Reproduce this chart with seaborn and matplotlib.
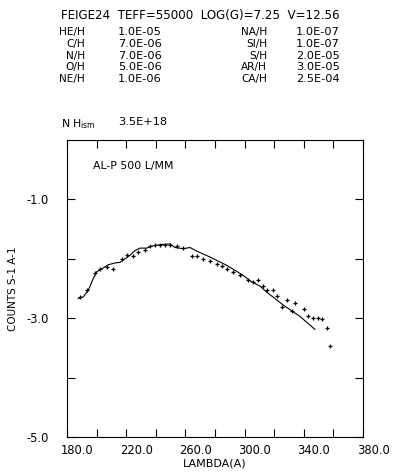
import numpy as np
import pandas as pd
import matplotlib
matplotlib.use("Agg")
import matplotlib.pyplot as plt
import matplotlib.transforms as mtransforms
import seaborn as sns

# observed flux points (+ markers)
obs_lambda = [188.8, 193.3, 198.9, 202.3, 206.8, 211.0, 217.0, 220.7, 224.4, 228.2,
              232.7, 236.1, 239.5, 242.8, 246.2, 249.6, 254.1, 258.6, 264.3, 267.6,
              272.1, 276.6, 281.1, 284.5, 287.9, 292.4, 296.9, 302.5, 305.9, 309.3,
              312.6, 314.9, 319.4, 322.1, 325.5, 328.4, 331.8, 334.1, 340.1, 343.0,
              346.4, 349.8, 352.1, 355.5, 357.7]
obs_counts = [-2.64, -2.53, -2.24, -2.17, -2.13, -2.17, -2.00, -1.93, -1.96, -1.89,
              -1.86, -1.79, -1.77, -1.77, -1.76, -1.77, -1.79, -1.82, -1.96, -1.96,
              -2.00, -2.03, -2.08, -2.12, -2.17, -2.23, -2.28, -2.36, -2.39, -2.36,
              -2.45, -2.53, -2.53, -2.62, -2.81, -2.70, -2.88, -2.75, -2.85, -2.97,
              -2.99, -2.99, -3.02, -3.16, -3.46]

# model curve
mod_lambda = [187.5, 191.0, 194.4, 197.8, 200.0, 203.4, 207.9, 212.4, 215.8, 219.2,
              222.6, 226.0, 229.3, 233.8, 238.3, 244.0, 249.6, 253.0, 258.6, 263.1,
              267.6, 276.6, 287.9, 299.1, 303.6, 310.4, 314.9, 326.2, 337.4, 347.6]
mod_counts = [-2.67, -2.64, -2.53, -2.33, -2.22, -2.17, -2.10, -2.07, -2.06, -2.00,
              -1.94, -1.86, -1.82, -1.82, -1.78, -1.76, -1.75, -1.81, -1.83, -1.81,
              -1.87, -1.97, -2.11, -2.28, -2.37, -2.46, -2.56, -2.78, -2.97, -3.19]

# header abundances
left_labels = ["HE/H", "C/H", "N/H", "O/H", "NE/H"]
left_values = ["1.0E-05", "7.0E-06", "7.0E-06", "5.0E-06", "1.0E-06"]
right_labels = ["NA/H", "SI/H", "S/H", "AR/H", "CA/H"]
right_values = ["1.0E-07", "1.0E-07", "2.0E-05", "3.0E-05", "2.5E-04"]

x_ticks = [180, 220, 260, 300, 340, 380]
y_ticks = [-5, -3, -1]

df_obs = pd.DataFrame({"lam": obs_lambda, "cnt": obs_counts})
df_mod = pd.DataFrame({"lam": mod_lambda, "cnt": mod_counts})

sns.set_style("ticks")
plt.rcParams['font.family'] = ['DejaVu Sans']
plt.rcParams['axes.unicode_minus'] = False
plt.rcParams['text.color'] = 'black'
plt.rcParams['axes.labelcolor'] = 'black'
plt.rcParams['xtick.color'] = 'black'
plt.rcParams['ytick.color'] = 'black'

fig = plt.figure(figsize=(3.93, 4.76), dpi=100)
ax = fig.add_axes([67 / 393, 1 - 437 / 476, 296 / 393, 297 / 476])

sns.lineplot(data=df_mod, x="lam", y="cnt", ax=ax, color="black", lw=0.8,
             sort=False, estimator=None)
sns.scatterplot(data=df_obs, x="lam", y="cnt", ax=ax, color="black", marker="+",
                s=12, linewidth=0.9)

ax.set_xlim(180, 380)
ax.set_ylim(-5, 0)
ax.set_xticks(x_ticks)
ax.set_xticklabels([f"{v:.1f}" for v in x_ticks], fontsize=8.3)
ax.set_xticks(np.arange(200, 380, 40), minor=True)
ax.set_yticks(y_ticks)
ax.set_yticklabels([f"{v:.1f}" for v in y_ticks], fontsize=8.3)
ax.set_yticks([-4, -2], minor=True)
ax.tick_params(which="both", direction="in", length=6, width=0.8,
               top=True, right=True, color="black")
ax.tick_params(axis="y", pad=13)
ax.tick_params(axis="x", pad=5)
offset = mtransforms.ScaledTranslation(0.10, 0, fig.dpi_scale_trans)
for lbl in ax.get_xticklabels():
    lbl.set_transform(lbl.get_transform() + offset)
for sp in ax.spines.values():
    sp.set_color("black")
    sp.set_linewidth(0.8)

ax.set_xlabel("LAMBDA(A)", fontsize=8, labelpad=1)
ax.set_ylabel("COUNTS S-1 A-1", fontsize=7.5, labelpad=6)
ax.text(0.088, 0.912, "AL-P 500 L/MM", transform=ax.transAxes, fontsize=7.8,
        va="center", ha="left")

# header text in figure pixels
def ftxt(px, py, s, ha="left", size=8.2):
    fig.text(px / 393, 1 - py / 476, s, ha=ha, va="center", fontsize=size)

ftxt(61, 15, "FEIGE24  TEFF=55000  LOG(G)=7.25  V=12.56", size=8.6)
for i in range(5):
    yy = 32 + i * 11.8
    ftxt(85, yy, left_labels[i], ha="right", size=7.6)
    ftxt(118, yy, left_values[i])
    ftxt(267, yy, right_labels[i], ha="right", size=7.6)
    ftxt(296, yy, right_values[i])
ftxt(61, 124, r"N H$_{\mathrm{ism}}$", size=7.8)
ftxt(118, 122, "3.5E+18")

fig.savefig("out.png", dpi=100)
